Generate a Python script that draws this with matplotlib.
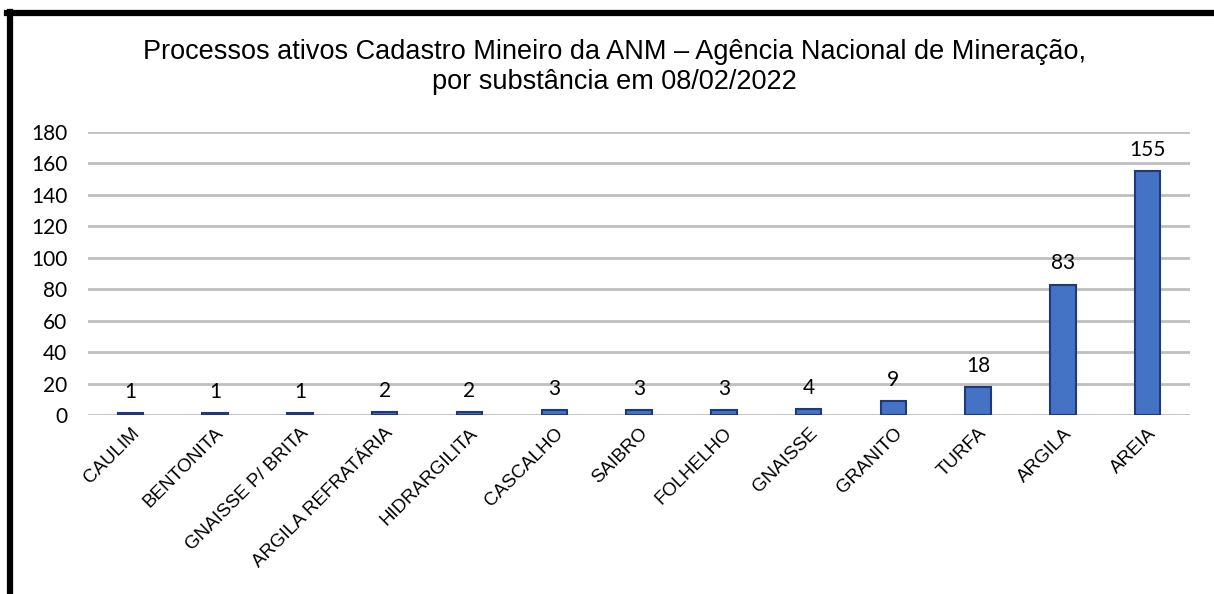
import matplotlib
matplotlib.use("Agg")
import matplotlib.pyplot as plt
from matplotlib.lines import Line2D
import numpy as np

# dados
substancias = ["CAULIM", "BENTONITA", "GNAISSE P/ BRITA", "ARGILA REFRATÁRIA",
               "HIDRARGILITA", "CASCALHO", "SAIBRO", "FOLHELHO", "GNAISSE",
               "GRANITO", "TURFA", "ARGILA", "AREIA"]
processos = [1, 1, 1, 2, 2, 3, 3, 3, 4, 9, 18, 83, 155]
yticks = [0, 20, 40, 60, 80, 100, 120, 140, 160, 180]
titulo = ("Processos ativos Cadastro Mineiro da ANM \u2013 Agência Nacional de Mineração,\n"
          "por substância em 08/02/2022")

fig = plt.figure(figsize=(12.14, 5.94), dpi=100)
ax = fig.add_axes([0.0725, 0.3013, 0.9078, 0.4765])

x = np.arange(len(substancias))
ax.bar(x, processos, width=0.3, color="#4472C4", edgecolor="#1F3A7A",
       linewidth=1.5, zorder=3)

for xi, v in zip(x, processos):
    ax.annotate(str(v), (xi, v), xytext=(0, 8), textcoords="offset points",
                ha="center", va="bottom", fontsize=15, family="Lato",
                color="#000000", zorder=4)

ax.set_xlim(-0.5, len(substancias) - 0.5)
ax.set_ylim(0, 180)
ax.set_yticks(yticks)
ax.set_yticklabels([str(t) for t in yticks], fontsize=15, family="Lato")
ax.yaxis.grid(True, color="#BFBFBF", linewidth=2, zorder=0)
ax.tick_params(axis="y", length=0, pad=15)
ax.tick_params(axis="x", length=0, pad=7)
ax.set_xticks(x)
ax.set_xticklabels(substancias, rotation=45, ha="right", rotation_mode="anchor",
                   fontsize=13.5, family="Liberation Sans")
for s in ax.spines.values():
    s.set_visible(False)

fig.text(0.506, 0.887, titulo, ha="center", va="center", fontsize=19.5,
         family="Liberation Sans", linespacing=1.2)

# moldura preta (topo e esquerda)
fig.add_artist(Line2D([0.0058, 1.0], [0.978, 0.978], transform=fig.transFigure,
                      color="black", linewidth=4.5))
fig.add_artist(Line2D([0.0082, 0.0082], [0.0, 0.980], transform=fig.transFigure,
                      color="black", linewidth=4.5))

fig.savefig("out.png", dpi=100, facecolor="white")
